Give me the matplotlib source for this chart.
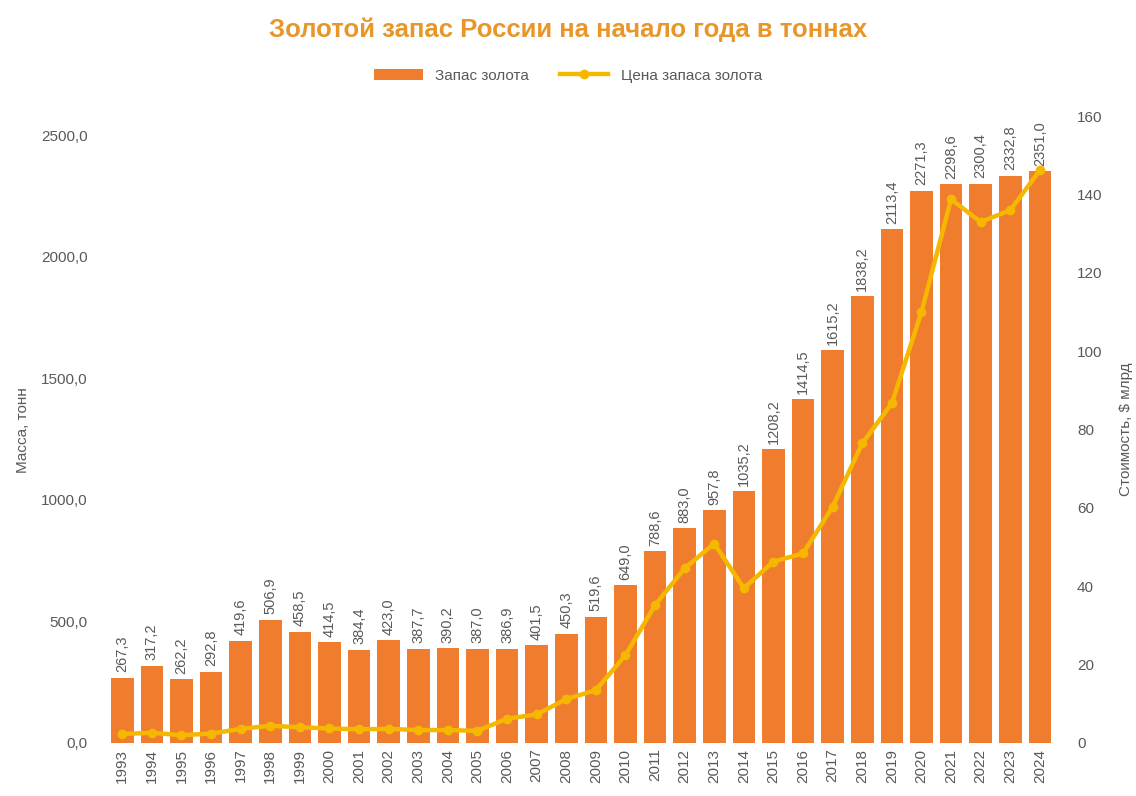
import numpy as np
import matplotlib
matplotlib.use("Agg")
import matplotlib.pyplot as plt
from matplotlib.ticker import FuncFormatter

plt.rcParams['font.family'] = ['Liberation Sans', 'DejaVu Sans']

# Data
years = [str(y) for y in range(1993, 2025)]
gold_tonnes = [267.3, 317.2, 262.2, 292.8, 419.6, 506.9, 458.5, 414.5, 384.4, 423.0,
               387.7, 390.2, 387.0, 386.9, 401.5, 450.3, 519.6, 649.0, 788.6, 883.0,
               957.8, 1035.2, 1208.2, 1414.5, 1615.2, 1838.2, 2113.4, 2271.3, 2298.6, 2300.4,
               2332.8, 2351.0]
gold_value = [2.3, 2.6, 2.0, 2.4, 3.6, 4.4, 4.0, 3.7, 3.5, 3.6,
              3.3, 3.3, 3.1, 6.2, 7.3, 11.2, 13.5, 22.4, 35.2, 44.6,
              50.9, 39.5, 46.3, 48.4, 60.3, 76.5, 86.7, 110.0, 138.8, 133.0,
              136.0, 146.2]

bar_color = '#F07C2E'
line_color = '#F5B700'
text_grey = '#595959'

fig = plt.figure(figsize=(11.36, 7.96), dpi=100)
ax = fig.add_axes([0.092, 0.0666, 0.839, 0.7874])
ax2 = ax.twinx()

x = np.arange(len(years))
bars = ax.bar(x, gold_tonnes, width=0.76, color=bar_color, label='Запас золота', zorder=2)
for xi, v in zip(x, gold_tonnes):
    ax.annotate(f'{v:.1f}'.replace('.', ','), (xi, v), xytext=(0, 4),
                textcoords='offset points', rotation=90, ha='center', va='bottom',
                fontsize=10.5, color=text_grey)

ln, = ax2.plot(x, gold_value, color=line_color, lw=3.2, marker='o', markersize=6,
               markerfacecolor=line_color, markeredgecolor=line_color, label='Цена запаса золота',
               zorder=3)

ax.set_xlim(-0.6, len(years) - 0.4)
ax.set_ylim(0, 2578)
ax.set_yticks(np.arange(0, 2501, 500))
ax.yaxis.set_major_formatter(FuncFormatter(lambda v, p: f'{v:.1f}'.replace('.', ',')))
ax2.set_ylim(0, 160)
ax2.set_yticks(np.arange(0, 161, 20))

ax.set_xticks(x)
ax.set_xticklabels(years, rotation=90, fontsize=10.5, color=text_grey)
for a in (ax, ax2):
    for s in a.spines.values():
        s.set_visible(False)
    a.tick_params(length=0, labelsize=11, colors=text_grey)
ax.tick_params(axis='y', pad=12)
ax2.tick_params(axis='y', pad=14)
ax.tick_params(axis='x', pad=4)

ax.set_ylabel('Масса, тонн', fontsize=11, color=text_grey, labelpad=8)
ax2.set_ylabel('Стоимость, $ млрд', fontsize=11, color=text_grey, labelpad=12)

fig.text(0.5, 0.962, 'Золотой запас России на начало года в тоннах', ha='center', va='center',
         fontsize=18.5, fontweight='bold', color='#E8962A')
fig.legend(handles=[bars, ln], loc='center', bbox_to_anchor=(0.5, 0.905), ncol=2,
           frameon=False, fontsize=11, labelcolor=text_grey, handlelength=3.2, columnspacing=2)

fig.savefig('out.png', dpi=100)
